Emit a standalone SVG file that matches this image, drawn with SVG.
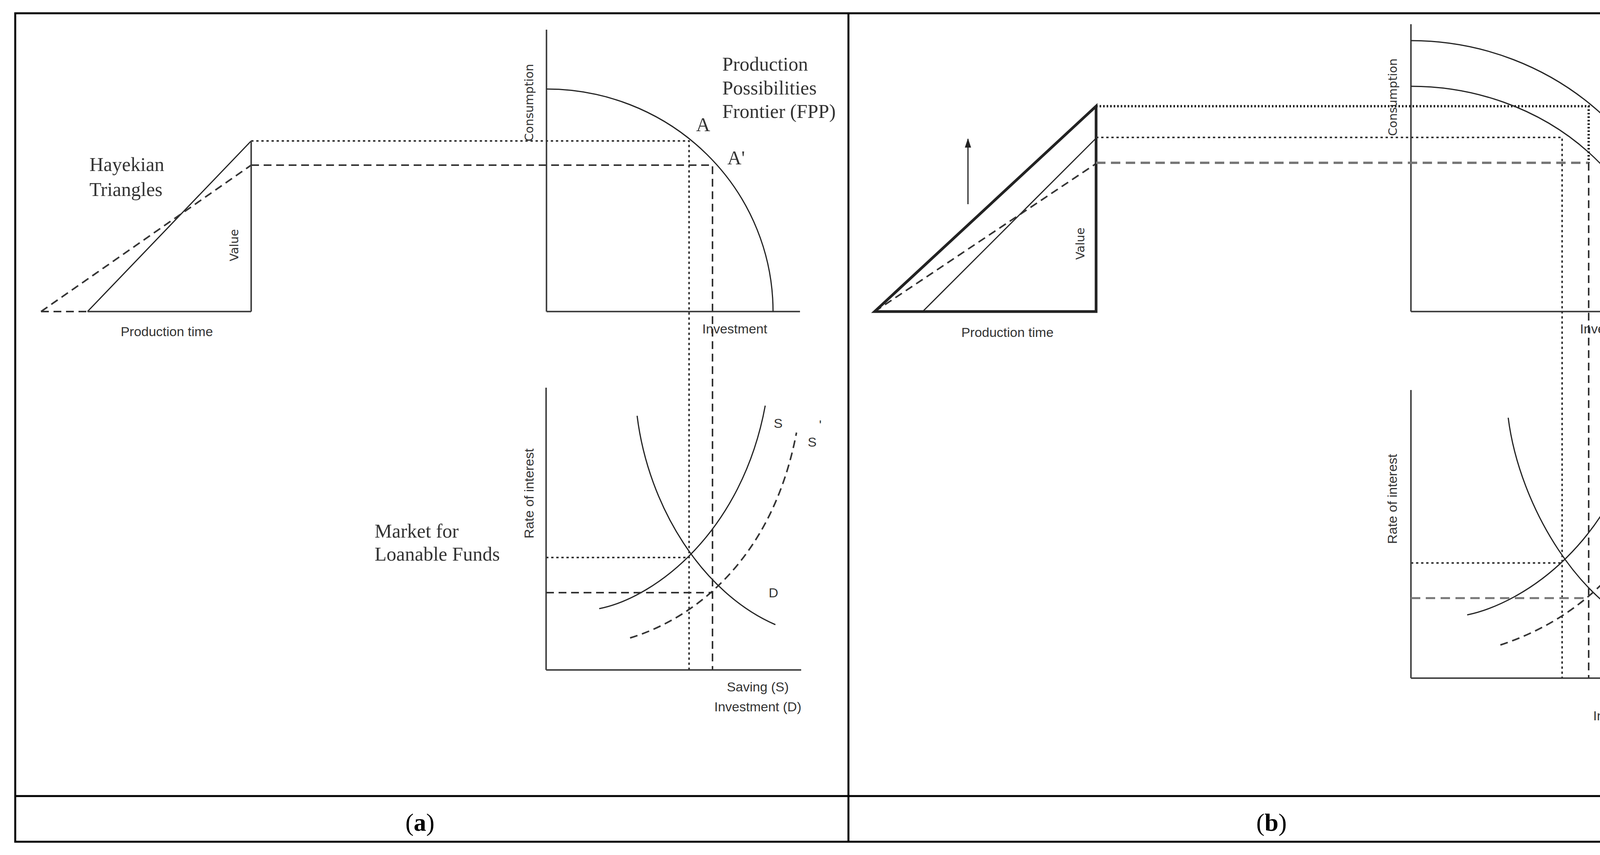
<svg xmlns="http://www.w3.org/2000/svg" width="4437" height="2190" viewBox="0 0 4437 2190">
<style>
.ax{stroke:#444;stroke-width:4;fill:none}
.cv{stroke:#222;stroke-width:3;fill:none}
.dot{stroke:#333;stroke-width:4;stroke-dasharray:6 7;fill:none}
.dash{stroke:#333;stroke-width:4;stroke-dasharray:20 12;fill:none}
.serif{font-family:"Liberation Serif",serif;font-size:50px;fill:#333}
.sans{font-family:"Liberation Sans",sans-serif;font-size:34px;fill:#333}
.wide{font-family:"DejaVu Sans",sans-serif;font-size:30px;fill:#333}
.lbl{font-family:"Liberation Serif",serif;font-size:64px;fill:#000}
</style>
<defs><marker id="ah" markerWidth="10" markerHeight="10" refX="8" refY="5" orient="auto" markerUnits="userSpaceOnUse" viewBox="0 0 10 10"><path d="M0,0 L10,5 L0,10 z" fill="#222"/></marker>
<marker id="ahb" markerWidth="24" markerHeight="30" refX="22" refY="12" orient="auto" markerUnits="userSpaceOnUse" viewBox="0 0 24 24"><path d="M0,4 L24,12 L0,20 z" fill="#222"/></marker></defs>
<rect x="0" y="0" width="4437" height="2190" fill="#fff"/>
<g id="frame" stroke="#000" stroke-width="5" fill="none">
<rect x="39" y="34" width="4361" height="2122"/>
<line x1="2172" y1="34" x2="2172" y2="2156"/>
<line x1="39" y1="2039" x2="4400" y2="2039"/>
</g>
<g id="panel-a">
<g id="triangle-a">
<line class="cv" x1="224" y1="798" x2="643" y2="361"/>
<line class="dash" x1="105" y1="798" x2="643" y2="423"/>
<line class="dash" x1="105" y1="798" x2="224" y2="798"/>
<line class="ax" x1="224" y1="798" x2="643" y2="798"/>
<line class="ax" x1="643" y1="361" x2="643" y2="798"/>
<text class="serif" x="229" y="438">Hayekian</text>
<text class="serif" x="229" y="502">Triangles</text>
<text class="wide" transform="translate(610,628) rotate(-90)" text-anchor="middle">Value</text>
<text class="sans" x="427" y="861" text-anchor="middle">Production time</text>
</g>
<g id="fpp-a">
<line class="ax" x1="1399" y1="76" x2="1399" y2="798"/>
<line class="ax" x1="1399" y1="798" x2="2048" y2="798"/>
<path class="cv" d="M1399,228 A580,570 0 0 1 1979,798"/>
<text class="wide" transform="translate(1365,263) rotate(-90)" text-anchor="middle">Consumption</text>
<text class="sans" x="1881" y="854" text-anchor="middle">Investment</text>
<text class="serif" x="1849" y="181">Production</text>
<text class="serif" x="1849" y="242">Possibilities</text>
<text class="serif" x="1849" y="302">Frontier (FPP)</text>
<text class="serif" x="1782" y="336">A</text>
<text class="serif" x="1862" y="421">A'</text>
</g>
<g id="loanable-a">
<line class="ax" x1="1398" y1="993" x2="1398" y2="1716"/>
<line class="ax" x1="1398" y1="1716" x2="2051" y2="1716"/>
<path class="cv" d="M1534,1559 C1680,1530 1900,1360 1959,1039"/>
<path class="cv" d="M1631,1065 C1660,1300 1800,1520 1985,1600"/>
<path class="dash" d="M1613,1634 C1790,1580 1980,1420 2039,1108"/>
<text class="sans" x="1992" y="1096" text-anchor="middle">S</text>
<text class="sans" x="2079" y="1144" text-anchor="middle">S</text>
<text class="sans" x="2100" y="1100" text-anchor="middle">'</text>
<text class="sans" x="1980" y="1530" text-anchor="middle">D</text>
<text class="sans" x="1940" y="1771" text-anchor="middle">Saving (S)</text>
<text class="sans" x="1940" y="1822" text-anchor="middle">Investment (D)</text>
<text class="sans" transform="translate(1366,1264) rotate(-90)" text-anchor="middle">Rate of interest</text>
<text class="serif" x="959" y="1377">Market for</text>
<text class="serif" x="959" y="1436">Loanable Funds</text>
</g>
<text class="lbl" x="1075" y="2128" text-anchor="middle">(<tspan font-weight="bold">a</tspan>)</text>
</g>
<g id="panel-b">
<g id="triangle-b">
<line class="cv" x1="2362" y1="798" x2="2806" y2="354"/>
<line class="dash" x1="2239" y1="798" x2="2806" y2="419"/>
<path d="M2239,798 L2806,272 L2806,798 Z" fill="none" stroke="#222" stroke-width="7"/>
<line x1="2478" y1="523" x2="2478" y2="356" stroke="#222" stroke-width="3" marker-end="url(#ahb)"/>
<text class="wide" transform="translate(2776,624) rotate(-90)" text-anchor="middle">Value</text>
<text class="sans" x="2579" y="863" text-anchor="middle">Production time</text>
</g>
<g id="fpp-b">
<line class="ax" x1="3612" y1="62" x2="3612" y2="798"/>
<line class="ax" x1="3612" y1="798" x2="4307" y2="798"/>
<path class="cv" d="M3612,104 A713,694 0 0 1 4325,798"/>
<path class="cv" d="M3612,221 A643,577 0 0 1 4255,798"/>
<line x1="4119" y1="251" x2="4192" y2="182" stroke="#222" stroke-width="3" marker-end="url(#ahb)"/>
<text class="wide" transform="translate(3576,249) rotate(-90)" text-anchor="middle">Consumption</text>
<text class="sans" x="4128" y="854" text-anchor="middle">Investment</text>
</g>
<g id="loanable-b">
<line class="ax" x1="3612" y1="999" x2="3612" y2="1737"/>
<line class="ax" x1="3612" y1="1737" x2="4306" y2="1737"/>
<path class="cv" d="M3756,1575 C3900,1545 4140,1390 4210,1043"/>
<path class="cv" d="M3861,1070 C3890,1300 4050,1560 4237,1618"/>
<path class="dash" d="M3841,1652 C4030,1590 4230,1440 4294,1115"/>
<text class="sans" x="4247" y="1104" text-anchor="middle">S</text>
<text class="sans" x="4336" y="1152" text-anchor="middle">S</text>
<text class="sans" x="4232" y="1547" text-anchor="middle">D</text>
<text class="sans" x="4190" y="1792" text-anchor="middle">Saving (S)</text>
<text class="sans" x="4190" y="1845" text-anchor="middle">Investment (D)</text>
<text class="sans" transform="translate(3576,1278) rotate(-90)" text-anchor="middle">Rate of interest</text>
</g>
<text class="lbl" x="3255" y="2128" text-anchor="middle">(<tspan font-weight="bold">b</tspan>)</text>
</g>
<g id="connectors">
<polyline class="dot" points="643,361 1764,361 1764,1716"/>
<polyline class="dash" points="643,423 1824,423 1824,1716"/>
<polyline class="dot" points="1398,1428 1764,1428"/>
<polyline class="dash" points="1398,1518 1824,1518"/>
<polyline points="2806,272 4067,272 4067,417" fill="none" stroke="#222" stroke-width="6" stroke-dasharray="4 5"/>
<polyline class="dot" points="2806,352 3999,352 3999,1737" stroke="#555"/>
<polyline points="2806,417 4067,417" fill="none" stroke="#777" stroke-width="6" stroke-dasharray="24 14"/>
<line class="dash" x1="4067" y1="417" x2="4067" y2="1737"/>
<polyline class="dot" points="3612,1442 4002,1442"/>
<polyline points="3612,1532 4067,1532" fill="none" stroke="#777" stroke-width="5" stroke-dasharray="24 14"/>
</g>
</svg>
